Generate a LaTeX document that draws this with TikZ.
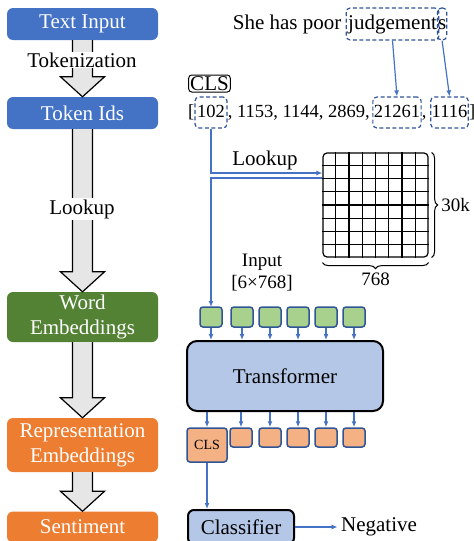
\documentclass[tikz,border=0pt]{standalone}
\usepackage{fontspec}
\setmainfont{Liberation Serif}
\usetikzlibrary{positioning,calc,arrows.meta,decorations.pathreplacing}

\definecolor{stageblue}{HTML}{4472C4}
\definecolor{stagegreen}{HTML}{548235}
\definecolor{stageorange}{HTML}{ED7D31}
\definecolor{linkblue}{HTML}{4472C4}
\definecolor{edgeblue}{HTML}{2F5597}
\definecolor{embgreen}{HTML}{A9D18E}
\definecolor{reporange}{HTML}{F4B183}
\definecolor{layerfill}{HTML}{B4C7E7}
\definecolor{arrowgray}{HTML}{E7E6E6}

\newcommand{\bigfont}{\fontsize{21}{25}\selectfont}
\newcommand{\midfont}{\fontsize{19}{22}\selectfont}
\newcommand{\tokfont}{\fontsize{18.5}{22}\selectfont}
\newcommand{\smallfont}{\fontsize{14}{16}\selectfont}

\tikzset{
  >={Latex[length=6pt,width=5pt]},
  stage/.style={rounded corners=6pt, text=white, align=center, minimum width=151pt, inner sep=0pt},
  blockarrow/.style={fill=arrowgray, draw=black, line width=1.2pt},
  flow/.style={draw=linkblue, line width=1.2pt, ->},
  tokbox/.style={draw=edgeblue, dash pattern=on 4pt off 2.5pt, line width=1.2pt, rounded corners=4pt,
    inner xsep=1pt, text height=14pt, text depth=4pt, minimum height=31pt, font=\tokfont},
  plain/.style={inner sep=0pt, text height=14pt, text depth=4pt, font=\tokfont},
  embbox/.style={draw=edgeblue, fill=embgreen, line width=1.5pt, rounded corners=3pt, minimum width=22pt, minimum height=20pt},
  repbox/.style={draw=edgeblue, fill=reporange, line width=1.5pt, rounded corners=3pt, minimum width=22pt, minimum height=19pt},
  layer/.style={draw=black, fill=layerfill, line width=2pt, rounded corners=10pt},
}

\newcommand{\stagearrow}[2]{%
  \draw[blockarrow] let \p1=(#1.south), \p2=(#2.north) in
    (\x1-10pt,\y1) -- (\x1-10pt,\y2+20pt) -- (\x1-22pt,\y2+20pt) -- (\x1,\y2)
    -- (\x1+22pt,\y2+20pt) -- (\x1+10pt,\y2+20pt) -- (\x1+10pt,\y1);}

\begin{document}
\begin{tikzpicture}[x=1pt, y=-1pt, font=\bigfont]
  \useasboundingbox (0,0) rectangle (474,541);

  % pipeline stages
  \node[stage, fill=stageblue, minimum height=32pt] (textin) at (82.5,24) {Text Input};
  \node[stage, fill=stageblue, minimum height=32pt] (tokids) at (82.5,113) {Token Ids};
  \node[stage, fill=stagegreen, minimum height=50pt] (wordemb) at (82.5,317) {Word\\Embeddings};
  \node[stage, fill=stageorange, minimum height=54pt] (repemb) at (82.5,445) {Representation\\Embeddings};
  \node[stage, fill=stageorange, minimum height=31pt] (sent) at (82.5,527) {Sentiment};

  \stagearrow{textin}{tokids}
  \stagearrow{tokids}{wordemb}
  \stagearrow{wordemb}{repemb}
  \stagearrow{repemb}{sent}
  \node[fill=white, inner sep=1pt] (tokn) at (82,60) {Tokenization};
  \node[fill=white, inner sep=1pt] (lookl) at (82,209) {Lookup};

  % sentence and token ids
  \node[tokbox, font=\bigfont, text height=15pt, text depth=5pt, minimum height=32pt, inner xsep=2pt] (judg) at (392.5,24) {judgement};
  \node[tokbox, font=\bigfont, text height=15pt, text depth=5pt, minimum height=32pt, inner xsep=0.5pt, right=-2.5pt of judg] (sfx) {s};
  \node[plain, font=\bigfont, text height=15pt, text depth=5pt, left=4pt of judg] (lead) {She has poor};

  \node[draw, rounded corners=3pt, line width=1pt, inner sep=1.5pt, text height=14pt, text depth=0pt] (clslab) at (209.5,83.5) {CLS};

  \node[tokbox, minimum width=32pt] (t1) at (211,112.5) {102};
  \node[tokbox, minimum width=47pt] (t5) at (397,112.5) {21261};
  \node[tokbox, minimum width=35pt] (t6) at (449.5,112.5) {1116};
  \node[plain, left=0pt of t1] (lb) {[};
  \node[plain, right=0pt of t1] (mid) {, 1153, 1144, 2869,};
  \node[plain, right=0pt of t5] (comma) {,};
  \node[plain, right=0pt of t6] (rb) {]};

  \draw[flow] (judg.south) -- (t5.north);
  \draw[flow] (sfx.south) -- (t6.north);

  % embedding table
  \node[draw, line width=1.2pt, rounded corners=4pt, minimum width=105pt, minimum height=104pt] (emb) at (375.5,205) {};
  \foreach \i in {1,...,7} {
    \draw[line width=1.2pt] ($(emb.north west)!\i/8!(emb.north east)$) -- ($(emb.south west)!\i/8!(emb.south east)$);
    \draw[line width=1.2pt] ($(emb.north west)!\i/8!(emb.south west)$) -- ($(emb.north east)!\i/8!(emb.south east)$);
  }
  \draw[decorate, decoration={brace, amplitude=6pt}, line width=1pt]
    ([xshift=3pt]emb.north east) -- ([xshift=3pt]emb.south east) node[midway, right=6pt, font=\midfont] (rows) {30k};
  \draw[decorate, decoration={brace, amplitude=6pt}, line width=1pt]
    ([yshift=-5pt]emb.south east) -- ([yshift=-5pt]emb.south west) node[midway, below=6pt, font=\midfont] (cols) {768};

  \node (lookr) at (265,160) {Lookup};
  \draw[flow] (t1.south) |- (emb.west |- 0,173);
  \draw[flow] (emb.west |- 0,178) -| (211,307);

  \node[align=center, font=\midfont] (inlab) at (262,273) {Input\\{[6×768]}};

  % transformer
  \foreach \x [count=\i] in {211,242,270,298,326,354}
    \node[embbox] (g\i) at (\x,317) {};
  \node[layer, minimum width=196pt, minimum height=70pt] (trans) at (285,376) {Transformer};
  \foreach \i in {1,...,6}
    \draw[flow] (g\i.south) -- (g\i.south |- trans.north);

  \node[repbox, minimum width=40pt, minimum height=34pt, font=\smallfont] (o1) at (207,445) {CLS};
  \foreach \x [count=\i from 2] in {241,270,298,326,354}
    \node[repbox] (o\i) at (\x,437.5) {};
  \foreach \i in {1,...,6}
    \draw[flow] (o\i.north |- trans.south) -- (o\i.north);

  % classifier
  \node[layer, rounded corners=6pt, minimum width=106pt, minimum height=34pt] (clf) at (241,527) {Classifier};
  \node (neg) at (379,527) {Negative};
  \draw[flow] (o1.south) -- (o1.south |- clf.north);
  \draw[flow] (clf) -- (neg);
\end{tikzpicture}
\end{document}
